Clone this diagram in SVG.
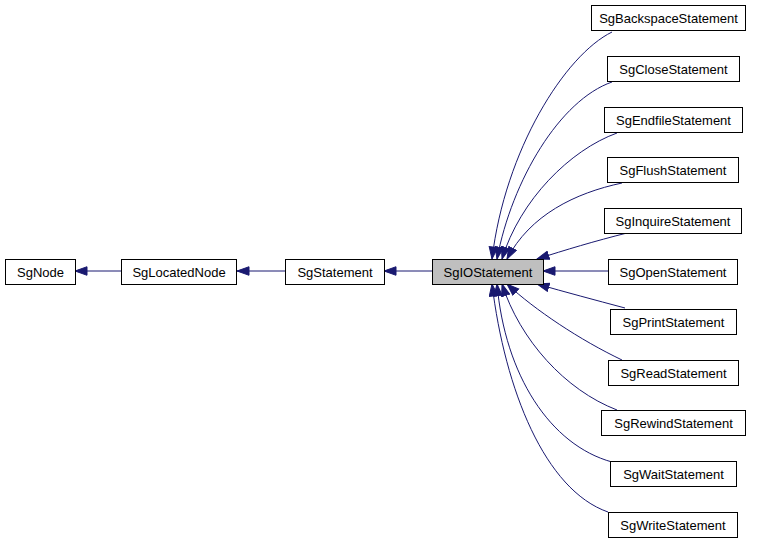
<svg xmlns="http://www.w3.org/2000/svg" width="760" height="544" viewBox="0 0 760 544">
<style>
.n rect{fill:#ffffff;stroke:#000000;stroke-width:1}
.n text{font-family:"Liberation Sans",Arial,sans-serif;font-size:13px;fill:#000000;text-anchor:middle}
#SgIOStatement rect{fill:#bfbfbf}
.e path{fill:none;stroke:#191970;stroke-width:1;marker-end:url(#ah)}
</style>
<defs>
<marker id="ah" markerUnits="userSpaceOnUse" markerWidth="14" markerHeight="11" refX="12.5" refY="4.75" orient="auto">
<path d="M0.5,0.5 L12.5,4.75 L0.5,9 z" fill="#191970" stroke="#191970" stroke-width="1"/>
</marker>
</defs>
<rect width="760" height="544" fill="#ffffff"/>
<g id="edges" class="e">
<path d="M121,271 L75,271"/>
<path d="M285,271 L237,271"/>
<path d="M432,271 L384,271"/>
<path d="M612,32 C565,55 505,150 492,259"/>
<path d="M612,82 C560,100 512,180 497,259"/>
<path d="M617,133 C570,150 520,200 502,259"/>
<path d="M622,183 C575,193 530,215 507,259"/>
<path d="M627,233 C595,241 565,250 537,259"/>
<path d="M608,271 L543,271"/>
<path d="M625,308 C595,300 565,292 537,284"/>
<path d="M622,360 C580,340 535,310 507,284"/>
<path d="M617,410 C565,390 520,340 502,284"/>
<path d="M612,462 C550,445 505,375 497,284"/>
<path d="M608,512 C545,490 505,390 492,284"/>
</g>
<g id="SgNode" class="n"><rect x="5.5" y="259.5" width="70" height="25"/><text x="40.5" y="276.5">SgNode</text></g>
<g id="SgLocatedNode" class="n"><rect x="121.5" y="259.5" width="115" height="25"/><text x="179" y="276.5">SgLocatedNode</text></g>
<g id="SgStatement" class="n"><rect x="285.5" y="259.5" width="99" height="25"/><text x="335" y="276.5">SgStatement</text></g>
<g id="SgIOStatement" class="n"><rect x="432.5" y="259.5" width="111" height="25"/><text x="488" y="276.5">SgIOStatement</text></g>
<g id="SgBackspaceStatement" class="n"><rect x="591.5" y="5.5" width="154" height="25"/><text x="668.5" y="22.5">SgBackspaceStatement</text></g>
<g id="SgCloseStatement" class="n"><rect x="607.5" y="56.5" width="132" height="25"/><text x="673.5" y="73.5">SgCloseStatement</text></g>
<g id="SgEndfileStatement" class="n"><rect x="604.5" y="107.5" width="138" height="25"/><text x="673.5" y="124.5">SgEndfileStatement</text></g>
<g id="SgFlushStatement" class="n"><rect x="607.5" y="157.5" width="131" height="25"/><text x="673" y="174.5">SgFlushStatement</text></g>
<g id="SgInquireStatement" class="n"><rect x="604.5" y="208.5" width="137" height="25"/><text x="673" y="225.5">SgInquireStatement</text></g>
<g id="SgOpenStatement" class="n"><rect x="608.5" y="259.5" width="129" height="25"/><text x="673" y="276.5">SgOpenStatement</text></g>
<g id="SgPrintStatement" class="n"><rect x="610.5" y="309.5" width="126" height="25"/><text x="673.5" y="326.5">SgPrintStatement</text></g>
<g id="SgReadStatement" class="n"><rect x="608.5" y="360.5" width="130" height="25"/><text x="673.5" y="377.5">SgReadStatement</text></g>
<g id="SgRewindStatement" class="n"><rect x="601.5" y="410.5" width="144" height="25"/><text x="673.5" y="427.5">SgRewindStatement</text></g>
<g id="SgWaitStatement" class="n"><rect x="610.5" y="461.5" width="126" height="25"/><text x="673.5" y="478.5">SgWaitStatement</text></g>
<g id="SgWriteStatement" class="n"><rect x="608.5" y="512.5" width="129" height="25"/><text x="673" y="529.5">SgWriteStatement</text></g>
</svg>
